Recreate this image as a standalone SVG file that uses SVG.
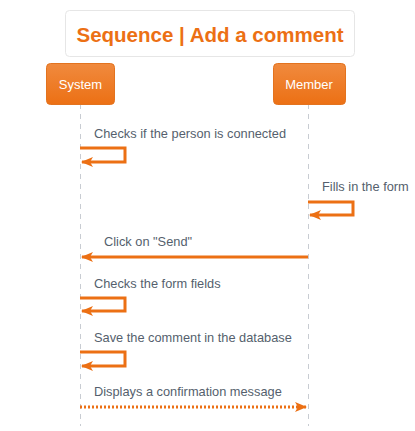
<svg xmlns="http://www.w3.org/2000/svg" width="415" height="431" viewBox="0 0 415 431">
<defs>
<linearGradient id="og" x1="0" y1="0" x2="0" y2="1">
<stop offset="0" stop-color="#f08a3e"/>
<stop offset="1" stop-color="#ec7014"/>
</linearGradient>
<marker id="ah" viewBox="0 0 12 10" refX="11" refY="5" markerWidth="12" markerHeight="10" markerUnits="userSpaceOnUse" orient="auto">
<path d="M0,0 L12,5 L0,10 L3,5 Z" fill="#ec7014"/>
</marker>
<style>
.box{fill:url(#og);stroke:#e3731f;stroke-width:1}
.lbl{font-family:"Liberation Sans",Arial,sans-serif;font-size:13px;fill:#ffffff;text-anchor:middle}
.msg{font-family:"Liberation Sans",Arial,sans-serif;font-size:12.8px;fill:#555f6d}
.life{stroke:#c8ccd2;stroke-width:1;stroke-dasharray:5,5;fill:none}
.m{stroke:#ec7014;stroke-width:3;fill:none}
.d{stroke:#ec7014;stroke-width:3;fill:none;stroke-dasharray:2,2}
</style>
</defs>
<rect width="415" height="431" fill="#ffffff"/>
<g id="title">
<rect x="65.5" y="10.5" width="289" height="46" rx="4" fill="#ffffff" stroke="#e6e6e6"/>
<text x="210" y="42" font-family="'Liberation Sans',Arial,sans-serif" font-size="20.5" font-weight="bold" fill="#ec7014" text-anchor="middle">Sequence | Add a comment</text>
</g>
<g id="lifelines">
<line class="life" x1="80.5" y1="104" x2="80.5" y2="426"/>
<line class="life" x1="308.5" y1="104" x2="308.5" y2="426"/>
</g>
<g id="system">
<rect class="box" x="46.5" y="63.5" width="68" height="41" rx="4"/>
<text class="lbl" x="80.5" y="89">System</text>
</g>
<g id="member">
<rect class="box" x="273.5" y="63.5" width="72" height="41" rx="4"/>
<text class="lbl" x="309" y="89">Member</text>
</g>
<g id="connectors">
<path class="m" d="M80,148 H125 V162 H82" marker-end="url(#ah)"/>
<path class="m" d="M308,202 H353 V215 H310" marker-end="url(#ah)"/>
<path class="m" d="M308,257 H82" marker-end="url(#ah)"/>
<path class="m" d="M80,298 H125 V311 H82" marker-end="url(#ah)"/>
<path class="m" d="M80,352 H125 V366 H82" marker-end="url(#ah)"/>
<path class="d" d="M80,407 H306" marker-end="url(#ah)"/>
</g>
<g id="labels">
<text class="msg" x="94" y="138">Checks if the person is connected</text>
<text class="msg" x="322" y="191">Fills in the form</text>
<text class="msg" x="104" y="246">Click on "Send"</text>
<text class="msg" x="94" y="288">Checks the form fields</text>
<text class="msg" x="94" y="342">Save the comment in the database</text>
<text class="msg" x="94" y="396">Displays a confirmation message</text>
</g>
</svg>
